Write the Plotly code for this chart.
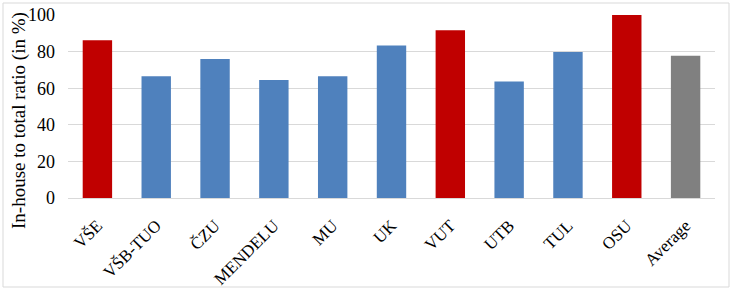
import plotly.graph_objects as go

categories = ["VŠE", "VŠB-TUO", "ČZU", "MENDELU", "MU", "UK", "VUT", "UTB", "TUL", "OSU", "Average"]
values = [86.2, 66.5, 76.0, 64.5, 66.5, 83.3, 91.7, 63.6, 79.8, 100.0, 77.8]
colors = ["#C00000", "#4F81BD", "#4F81BD", "#4F81BD", "#4F81BD", "#4F81BD",
          "#C00000", "#4F81BD", "#4F81BD", "#C00000", "#808080"]
y_ticks = [0, 20, 40, 60, 80, 100]
y_title = "In-house to total ratio (in %)"

W, H = 732, 291
ml, mr, mt, mb = 68, 17, 15, 93
FONT = "Liberation Serif"

fig = go.Figure(go.Bar(x=categories, y=values, marker=dict(color=colors, line=dict(width=0)), width=0.5))

pw = W - ml - mr
ph = H - mt - mb
fig.add_shape(type="rect", xref="paper", yref="paper",
              x0=(3 - ml) / pw, x1=(729 - ml) / pw,
              y0=(H - mb - 287) / ph, y1=(H - mb - 3) / ph,
              line=dict(color="#D9D9D9", width=1), layer="below")
fig.add_annotation(text=y_title, textangle=-90, xref="paper", yref="paper",
                   x=(19 - ml) / pw, y=(H - mb - 121) / ph, xanchor="center", yanchor="middle",
                   showarrow=False, font=dict(family=FONT, size=19, color="black"))

fig.update_layout(
    width=W, height=H,
    margin=dict(l=ml, r=mr, t=mt, b=mb, autoexpand=False),
    plot_bgcolor="white", paper_bgcolor="white",
    font=dict(family=FONT, size=18, color="black"),
    showlegend=False,
    bargap=0.5,
)
fig.update_xaxes(tickangle=-45, showline=True, linecolor="#D9D9D9", linewidth=1,
                 ticks="", showgrid=False, tickfont=dict(family=FONT, size=17),
                 ticklabelstandoff=10, automargin=False)
fig.update_yaxes(range=[0, 100], tickvals=y_ticks, showgrid=True, gridcolor="#D9D9D9",
                 gridwidth=1, zeroline=False, showline=False, ticks="",
                 tickfont=dict(family=FONT, size=18), ticklabelstandoff=12, automargin=False)

fig.write_html("out.html")
